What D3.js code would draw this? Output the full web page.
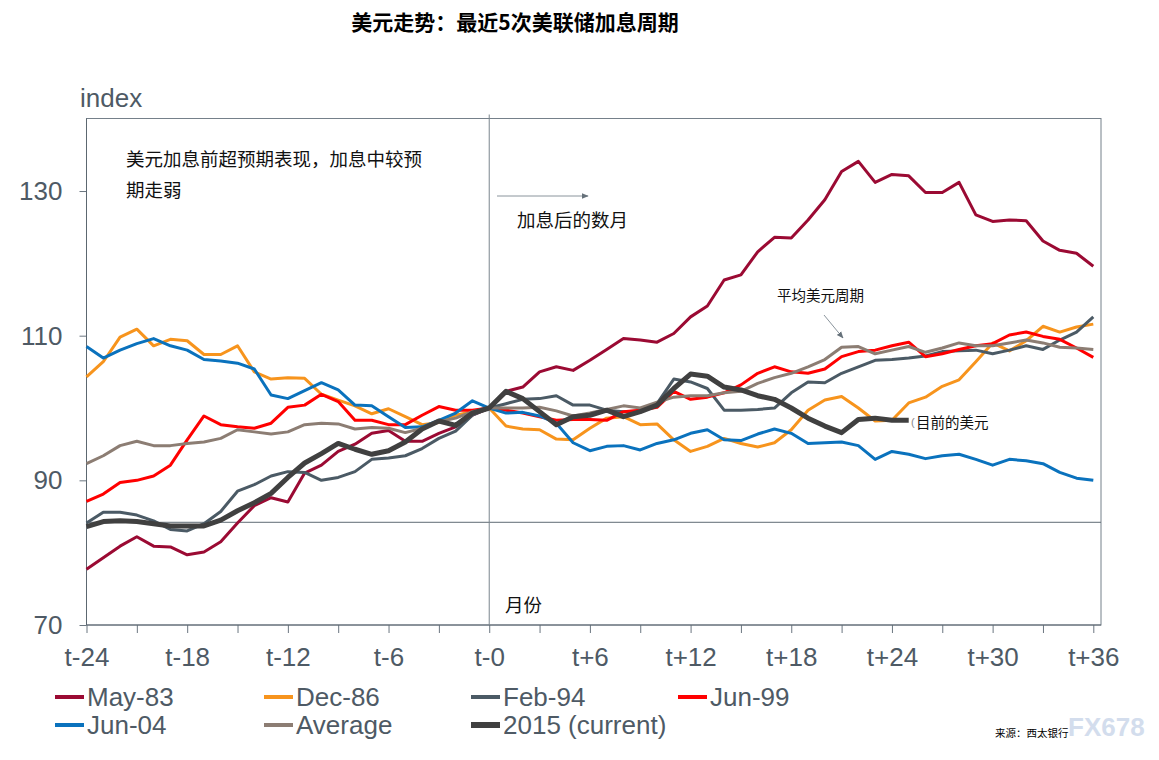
<!DOCTYPE html>
<html>
<head>
<meta charset="utf-8">
<script src="https://cdn.jsdelivr.net/npm/d3@7"></script>
<style>
  html, body { margin: 0; padding: 0; background: #ffffff; }
  svg { display: block; }
</style>
</head>
<body>
<svg id="chart" width="1159" height="760"></svg>
<script>
// ---------- DATA ----------
const months = d3.range(-24, 37); // t-24 .. t+36
const xTickLabels = ["t-24","t-18","t-12","t-6","t-0","t+6","t+12","t+18","t+24","t+30","t+36"];
const yTicks = [70, 90, 110, 130];
const refLevel = 84.2;

const may83 = [77.7,79.3,80.9,82.2,80.9,80.8,79.7,80.1,81.5,84.1,86.5,87.6,
               87.0,91.0,92.1,94.0,95.0,96.5,96.9,95.4,95.4,96.5,97.4,99.0,
               100,
               102.3,102.9,105.0,105.7,105.2,106.6,108.1,109.6,109.4,109.1,110.3,112.6,
               114.1,117.7,118.4,121.6,123.6,123.5,126.0,128.8,132.7,134.1,131.2,132.3,
               132.1,129.8,129.8,131.2,126.7,125.8,126.0,125.9,123.1,121.8,121.4,119.6];
const dec86 = [104.3,106.4,109.8,110.9,108.6,109.5,109.3,107.4,107.4,108.6,105.0,104.0,
               104.2,104.1,101.9,101.1,100.3,99.2,99.9,98.8,97.7,98.0,99.0,99.5,
               100,
               97.5,97.1,97.0,95.7,95.6,97.2,98.6,98.8,97.7,97.8,95.6,94.0,
               94.7,95.8,95.1,94.6,95.2,97.0,99.7,101.1,101.6,100.0,98.2,98.3,
               100.7,101.5,103.0,103.9,106.4,109.0,107.9,109.3,111.3,110.5,111.2,111.6];
const feb94 = [84.1,85.6,85.6,85.2,84.4,83.2,83.0,84.0,85.7,88.5,89.4,90.6,
               91.2,91.1,90.0,90.4,91.2,92.9,93.1,93.4,94.4,95.8,96.8,99.0,
               100,
               100.6,101.2,101.3,101.7,100.4,100.4,99.7,99.5,99.6,100.6,104.0,103.6,
               102.7,99.7,99.7,99.8,100.0,102.1,103.6,103.5,104.8,105.7,106.6,106.7,
               106.9,107.2,107.8,107.9,108.0,107.5,108.0,108.6,108.1,109.4,110.5,112.6];
const jun99 = [87.1,88.1,89.7,90.0,90.6,92.1,95.6,98.9,97.7,97.4,97.2,97.9,
               100.1,100.4,101.9,100.9,98.3,98.3,97.7,97.7,99.0,100.2,99.7,99.7,
               100,
               99.7,99.3,98.8,98.3,98.4,98.4,98.3,99.5,99.7,100.1,102.3,101.2,
               101.5,102.1,103.2,104.8,105.7,105.0,104.8,105.4,107.1,107.8,108.0,108.6,
               109.1,107.1,107.5,108.1,108.6,108.9,110.1,110.5,109.9,109.5,108.3,107.0];
const jun04 = [108.5,106.9,108.0,108.9,109.6,108.6,108.0,106.7,106.5,106.2,105.4,101.8,
               101.3,102.4,103.5,102.5,100.4,100.3,98.8,97.3,97.4,98.3,99.3,101.0,
               100,
               99.3,99.4,98.9,97.9,95.2,94.1,94.7,94.8,94.2,95.1,95.6,96.5,
               97.0,95.6,95.5,96.4,97.1,96.5,95.1,95.2,95.3,94.8,92.9,94.0,
               93.6,93.0,93.4,93.6,92.9,92.1,92.9,92.7,92.3,91.1,90.3,90.0];
const average = [92.3,93.4,94.8,95.4,94.8,94.8,95.1,95.3,95.8,97.0,96.7,96.4,
               96.7,97.7,97.9,97.8,97.1,97.3,97.2,96.6,97.2,98.1,98.6,99.5,
               100,
               100.0,100.0,100.1,99.6,98.9,99.3,99.8,100.3,100.0,100.8,101.5,101.7,
               101.7,102.1,102.3,103.4,104.2,104.8,105.7,106.7,108.4,108.5,107.5,108.0,
               108.5,107.7,108.3,109.0,108.6,108.6,109.0,109.4,109.0,108.4,108.3,108.1];
const cur2015 = [83.6,84.3,84.4,84.3,84.0,83.7,83.7,83.7,84.5,85.8,86.9,88.2,
               90.4,92.4,93.7,95.1,94.3,93.6,94.1,95.3,97.1,98.2,97.6,99.3,
               100,
               102.3,101.3,99.5,97.7,98.8,99.0,99.7,98.8,99.5,100.4,102.7,104.7,
               104.4,102.9,102.5,101.7,101.2,100.0,98.6,97.5,96.6,98.4,98.6,98.3,
               98.3];

const seriesNames  = ["May-83","Dec-86","Feb-94","Jun-99","Jun-04","Average","2015 (current)"];
const seriesValues = [may83, dec86, feb94, jun99, jun04, average, cur2015];
const seriesColors = ["#9b0a33","#f7941d","#4b5a65","#ff0000","#0a72bd","#8c7d73","#404040"];
const seriesWidths = [3, 3, 3, 3, 3, 3, 5];

// ---------- CHART ----------
const svg = d3.select("#chart");
const textColor = "#4e5a65";
const latin = "'Liberation Sans', Arial, sans-serif";
const cjk = "'Noto Sans CJK SC', 'Noto Sans', sans-serif";

const plot = {left: 86.5, top: 118.5, right: 1101, bottom: 625};
const x = d3.scaleLinear().domain([-24, 36]).range([86.5, 1093.3]);
const y = d3.scaleLinear().domain([70, 140]).range([625, 118.7]);

// Title
svg.append("text").attr("x", 515).attr("y", 30).attr("text-anchor", "middle")
  .attr("font-family", cjk).attr("font-weight", "bold").attr("font-size", 21)
  .attr("fill", "#000").text("美元走势：最近5次美联储加息周期");

// y label
svg.append("text").attr("x", 80).attr("y", 107).attr("font-family", latin)
  .attr("font-size", 26).attr("fill", textColor).text("index");

// plot frame
svg.append("rect").attr("x", plot.left).attr("y", plot.top)
  .attr("width", plot.right - plot.left).attr("height", plot.bottom - plot.top)
  .attr("fill", "none").attr("stroke", "#75808a").attr("stroke-width", 1);

// Axes
const xAxis = d3.axisBottom(x)
  .tickValues(d3.range(-24, 37, 3))
  .tickSize(8).tickPadding(10)
  .tickFormat(d => (d % 6 === 0) ? xTickLabels[(d + 24) / 6] : "");
const gx = svg.append("g").attr("transform", `translate(0,${plot.bottom})`).call(xAxis);
gx.select(".domain").remove();
gx.selectAll(".tick line").attr("stroke", "#6b7680");
gx.selectAll(".tick text").attr("font-family", latin).attr("font-size", 26)
  .attr("fill", textColor).attr("dy", "0.9em");

const yAxis = d3.axisLeft(y).tickValues(yTicks).tickSize(7).tickPadding(17).tickFormat(d3.format("d"));
const gy = svg.append("g").attr("transform", `translate(${plot.left},0)`).call(yAxis);
gy.select(".domain").remove();
gy.selectAll(".tick line").attr("stroke", "#6b7680");
gy.selectAll(".tick text").attr("font-family", latin).attr("font-size", 26)
  .attr("fill", textColor);

// axis lines (darker)
svg.append("line").attr("x1", plot.left).attr("x2", plot.left)
  .attr("y1", plot.top).attr("y2", plot.bottom).attr("stroke", "#5c6770");
svg.append("line").attr("x1", plot.left).attr("x2", plot.right)
  .attr("y1", plot.bottom).attr("y2", plot.bottom).attr("stroke", "#5c6770");

// reference lines
svg.append("line").attr("x1", plot.left).attr("x2", plot.right)
  .attr("y1", y(refLevel)).attr("y2", y(refLevel)).attr("stroke", "#5f6a73").attr("stroke-width", 1);
svg.append("line").attr("x1", x(0)).attr("x2", x(0))
  .attr("y1", plot.top - 4).attr("y2", plot.bottom).attr("stroke", "#7a858e").attr("stroke-width", 1);

// Series lines
const line = d3.line().x((d, i) => x(months[i])).y(d => y(d));
seriesValues.forEach((vals, k) => {
  svg.append("path").datum(vals)
    .attr("d", line)
    .attr("fill", "none")
    .attr("stroke", seriesColors[k])
    .attr("stroke-width", seriesWidths[k])
    .attr("stroke-linejoin", "round");
});

// Arrow marker
const defs = svg.append("defs");
defs.append("marker").attr("id", "arr").attr("viewBox", "0 0 10 10")
  .attr("refX", 9).attr("refY", 5).attr("markerWidth", 7).attr("markerHeight", 7)
  .attr("orient", "auto")
  .append("path").attr("d", "M0,1 L10,5 L0,9 Z").attr("fill", "#66717a");

svg.append("line").attr("x1", 497).attr("y1", 196).attr("x2", 588).attr("y2", 196)
  .attr("stroke", "#8a949c").attr("stroke-width", 1).attr("marker-end", "url(#arr)");
svg.append("line").attr("x1", 824).attr("y1", 315).attr("x2", 843).attr("y2", 338)
  .attr("stroke", "#8a949c").attr("stroke-width", 1).attr("marker-end", "url(#arr)");

// Annotations
function note(txt, xx, yy, size) {
  svg.append("text").attr("x", xx).attr("y", yy).attr("font-family", cjk)
    .attr("font-size", size).attr("fill", "#111").text(txt);
}
note("美元加息前超预期表现，加息中较预", 126, 166, 18.5);
note("期走弱", 126, 197, 18.5);
note("加息后的数月", 517, 227, 18.5);
note("平均美元周期", 777, 301, 14.5);
note("目前的美元", 916, 428, 14.5);
note("月份", 505, 612, 18.5);
svg.append("text").attr("x", 911).attr("y", 426).attr("font-family", latin)
  .attr("font-size", 11).attr("fill", "#888").text("(");

// Legend
const legendPos = [[55,697],[264,697],[471,697],[678,697],[55,725],[264,725],[471,725]];
seriesNames.forEach((name, k) => {
  const [lx, ly] = legendPos[k];
  svg.append("line").attr("x1", lx).attr("x2", lx + 29).attr("y1", ly).attr("y2", ly)
    .attr("stroke", seriesColors[k]).attr("stroke-width", k === 6 ? 6 : 4);
  svg.append("text").attr("x", lx + 32).attr("y", ly + 9).attr("font-family", latin)
    .attr("font-size", 26).attr("fill", textColor).text(name);
});

// Source and watermark
svg.append("text").attr("x", 1068).attr("y", 736).attr("font-family", latin)
  .attr("font-size", 26).attr("font-weight", "bold").attr("fill", "#d3dded").text("FX678");
svg.append("text").attr("x", 995).attr("y", 737).attr("font-family", cjk)
  .attr("font-size", 10.5).attr("fill", "#000").text("来源：西太银行");
</script>
</body>
</html>
